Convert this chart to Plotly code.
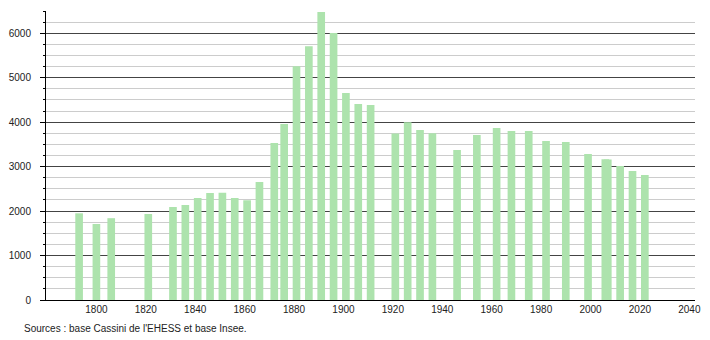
import plotly.graph_objects as go

years = [1793, 1800, 1806, 1821, 1831, 1836, 1841, 1846, 1851, 1856, 1861, 1866,
         1872, 1876, 1881, 1886, 1891, 1896, 1901, 1906, 1911, 1921, 1926, 1931,
         1936, 1946, 1954, 1962, 1968, 1975, 1982, 1990, 1999, 2006, 2007, 2012,
         2017, 2022]
population = [1950, 1710, 1840, 1935, 2092, 2137, 2295, 2407, 2410, 2295, 2243, 2655,
              3532, 3960, 5258, 5708, 6480, 6007, 4657, 4410, 4387, 3742, 3998, 3825,
              3750, 3375, 3712, 3870, 3802, 3800, 3577, 3555, 3285, 3165, 3160, 3015,
              2902, 2812]
x_ticks = [1800, 1820, 1840, 1860, 1880, 1900, 1920, 1940, 1960, 1980, 2000, 2020, 2040]
source_text = "Sources : base Cassini de l'EHESS et base Insee."

fig = go.Figure()
fig.add_trace(go.Bar(
    x=years, y=population, width=3.1,
    marker=dict(color="#ade3ad", line=dict(width=0)),
    hoverinfo="x+y",
))

fig.update_layout(
    width=710, height=340,
    margin=dict(l=44, r=9, t=11, b=40),
    paper_bgcolor="white", plot_bgcolor="white",
    showlegend=False,
    font=dict(family="Liberation Sans, Arial, sans-serif", size=10, color="#222"),
    xaxis=dict(
        range=[1779.6, 2042.3], tickmode="array", tickvals=x_ticks,
        ticktext=[str(v) for v in x_ticks],
        showgrid=False, zeroline=False,
        showline=True, linecolor="black", linewidth=1,
        ticks="", ticklabelstandoff=0,
        tickfont=dict(size=10),
    ),
    yaxis=dict(
        range=[0, 6500], tick0=0, dtick=1000,
        showgrid=True, gridcolor="#444", gridwidth=1,
        zeroline=False,
        showline=True, linecolor="black", linewidth=1,
        ticks="outside", ticklen=5, tickcolor="black",
        ticklabelstandoff=7,
        tickfont=dict(size=10),
        minor=dict(dtick=250, showgrid=True, gridcolor="#cccccc", gridwidth=1,
                   ticks="outside", ticklen=2, tickcolor="black"),
    ),
    annotations=[dict(
        text=source_text, xref="paper", yref="paper",
        x=-24/657, y=-28/289, xanchor="left", yanchor="middle",
        showarrow=False, font=dict(size=10, color="#222"),
    )],
)

fig.write_html("out.html")
